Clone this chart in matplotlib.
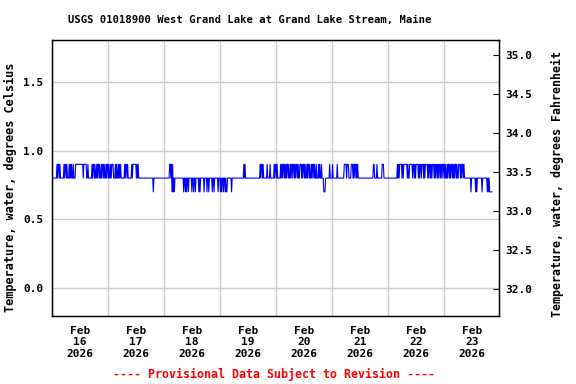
import datetime
import numpy as np
import matplotlib
matplotlib.use('Agg')
import matplotlib.pyplot as plt
import matplotlib.dates as mdates

# 15-minute water temperature (tenths of a degree C), one string per day, Feb 16 - Feb 23 2026
start = datetime.datetime(2026, 2, 16, 0, 0)
days = [
    "8888 8888 8989 9898 8888 8989 9898 8898 9898 8988 8999 9999 9999 9989 9999 8898 8888 8989 9898 8989 9898 8989 9898 8989",
    "9898 8989 9988 8989 8898 9898 8888 8989 9898 8888 8989 9999 9898 9888 8888 8888 8888 8888 8888 8878 8888 8888 8888 8888",
    "8888 8888 8899 8979 7878 8888 8888 8888 8878 8787 8878 8888 7887 8878 8888 7878 8888 8788 8878 8788 8887 8878 8888 8788",
    "8787 8878 8787 7888 8888 7888 8888 8888 8888 8888 8989 8888 8888 8888 8888 8888 8888 8989 9898 8888 8988 8898 8888 8989",
    "9898 8888 9898 9989 8989 9898 8989 9899 8989 9898 8999 8989 9898 8989 9898 8989 9898 8988 8989 8898 8877 7888 8888 9888",
    "8988 8888 8988 8888 8888 8999 9899 9888 8999 8989 9898 9888 8888 8888 8888 8888 8888 8889 9888 8988 8888 8899 9888 8888",
    "8888 8888 8888 8888 9898 9999 8989 9999 9898 8999 9989 9898 9999 8989 9899 9898 9999 8989 9898 9998 9899 8989 9898 9989",
    "9898 8989 9898 9989 8989 9898 8999 8989 9898 8888 8888 8878 8888 8878 7888 8888 8788 8888 8878 7877 777",
]
x_end = datetime.datetime(2026, 2, 23, 23, 40)

title = "USGS 01018900 West Grand Lake at Grand Lake Stream, Maine"
left_label = "Temperature, water, degrees Celsius"
right_label = "Temperature, water, degrees Fahrenheit"
footer = "---- Provisional Data Subject to Revision ----"

c_ticks = [0.0, 0.5, 1.0, 1.5]
f_ticks = [32.0, 32.5, 33.0, 33.5, 34.0, 34.5, 35.0]

codes = "".join(d.replace(" ", "") for d in days)
temps = np.array([int(ch) / 10.0 for ch in codes])
times = [start + datetime.timedelta(minutes=15 * i) for i in range(len(temps))]

font = {'family': 'DejaVu Sans Mono', 'weight': 'bold'}

fig = plt.figure(figsize=(5.76, 3.84), dpi=100)
ax = fig.add_axes([0.0898, 0.1771, 0.867 - 0.0898, 0.8971 - 0.1771])
ax.plot(times, temps, color='#0000ff', linewidth=0.8)

ax.set_xlim(start, x_end)
ax.set_ylim(-0.201, 1.806)
ax.set_yticks(c_ticks)
ax.set_yticklabels(["%.1f" % v for v in c_ticks], fontdict=font, fontsize=8)

ax.xaxis.set_major_locator(mdates.DayLocator())
ax.xaxis.set_major_formatter(plt.NullFormatter())
ax.xaxis.set_minor_locator(mdates.HourLocator(byhour=[12]))
ax.xaxis.set_minor_formatter(mdates.DateFormatter('%b\n%d\n%Y'))
ax.tick_params(axis='x', which='major', length=0)
ax.tick_params(axis='x', which='minor', length=0, pad=7)
for lbl in ax.xaxis.get_minorticklabels():
    lbl.set_fontfamily('DejaVu Sans Mono')
    lbl.set_fontweight('bold')
    lbl.set_fontsize(8)
    lbl.set_linespacing(1.2)
ax.tick_params(axis='y', direction='in', length=0, pad=6)

ax.grid(True, which='major', color='#cccccc', linewidth=1)
ax.set_axisbelow(True)
for s in ax.spines.values():
    s.set_linewidth(1)

ax2 = ax.twinx()
ax2.set_ylim(31.658, 35.198)
ax2.set_yticks(f_ticks)
ax2.set_yticklabels(["%.1f" % v for v in f_ticks], fontdict=font, fontsize=8)
ax2.tick_params(axis='y', direction='in', length=4, pad=4)

fig.text(0.019, 0.512, left_label, rotation=90, ha='center', va='center', fontdict=font, fontsize=8.6)
fig.text(0.967, 0.521, right_label, rotation=90, ha='center', va='center', fontdict=font, fontsize=8.4)
fig.text(0.433, 0.948, title, ha='center', va='center', fontdict=font, fontsize=7.6)
fig.text(0.476, 0.026, footer, ha='center', va='center', color='red', fontdict=font, fontsize=8.4)

fig.savefig('out.png', dpi=100)
